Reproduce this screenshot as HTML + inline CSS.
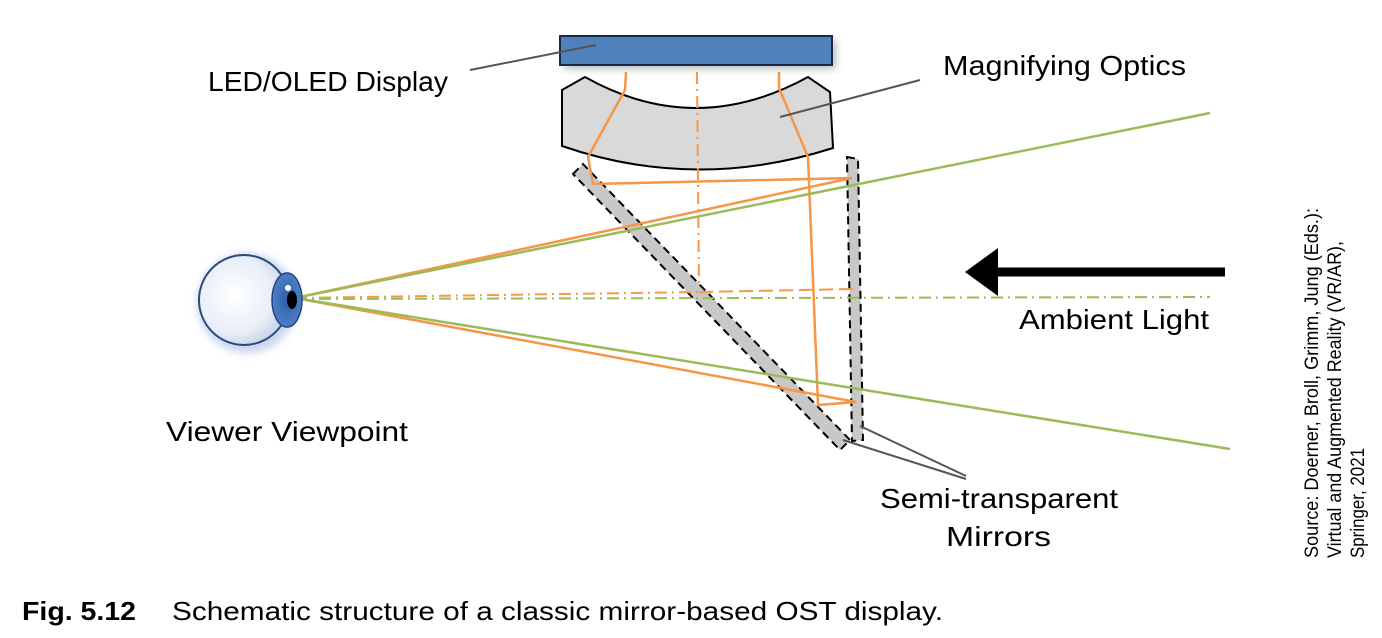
<!DOCTYPE html>
<html><head><meta charset="utf-8"><style>
html,body{margin:0;padding:0;background:#fff;}
svg{display:block;}
text{font-family:"Liberation Sans",sans-serif;fill:#000;}
</style></head><body>
<svg width="1382" height="638" viewBox="0 0 1382 638" xmlns="http://www.w3.org/2000/svg">
<defs>
<radialGradient id="eyeg" cx="0.4" cy="0.45" r="0.6">
<stop offset="0" stop-color="#ffffff"/><stop offset="0.7" stop-color="#e8eef8"/><stop offset="1" stop-color="#c5d3ea"/>
</radialGradient>
<radialGradient id="iris" cx="0.5" cy="0.5" r="0.5">
<stop offset="0" stop-color="#2d5fa8"/><stop offset="1" stop-color="#4c7fc5"/>
</radialGradient>
<filter id="sh" x="-20%" y="-20%" width="140%" height="140%"><feGaussianBlur stdDeviation="4"/></filter>
</defs>
<rect x="564" y="40" width="272" height="29" fill="#bbb" filter="url(#sh)"/>
<rect x="560" y="36" width="272" height="29" fill="#4f81bd" stroke="#1a2a44" stroke-width="2"/>
<path d="M562,90 L585,77 Q695,139 808,77 L830,92 L833,148 Q695,192 562,146 Z" fill="#d9d9d9" stroke="#000" stroke-width="2"/>
<line x1="697" y1="72" x2="699" y2="292" stroke="#f79646" stroke-width="2" stroke-dasharray="12,5,2,5"/>
<g fill="#c8c8c8" stroke="#000" stroke-width="2" stroke-dasharray="8,5">
<polygon points="573,174 583,164 850,440 840,450"/>
<polygon points="847,157 858,159 863,440 852,441"/>
</g>
<g fill="none" stroke="#f79646" stroke-width="2.5">
<polyline points="626,72 625,90 588,157 593,184 852,178 295,298 856,402 818,405 808,157 779,88 779,72"/>
</g>
<line x1="295" y1="298" x2="699" y2="292" stroke="#f79646" stroke-width="2" stroke-dasharray="12,5,2,5"/>
<line x1="699" y1="292" x2="855" y2="289" stroke="#f79646" stroke-width="2" stroke-dasharray="14,6"/>
<g stroke="#9bbb59" stroke-width="2.5">
<line x1="295" y1="298" x2="1210" y2="113"/>
<line x1="295" y1="298" x2="1230" y2="449"/>
</g>
<line x1="295" y1="299" x2="1210" y2="297" stroke="#9bbb59" stroke-width="2" stroke-dasharray="12,5,2,5"/>
<circle cx="247" cy="303" r="50" fill="#c9d6ee" filter="url(#sh)"/>
<circle cx="244" cy="300" r="45" fill="url(#eyeg)" stroke="#2b4a7a" stroke-width="2"/>
<ellipse cx="287" cy="300" rx="15" ry="27" fill="url(#iris)" stroke="#27447a" stroke-width="1.5"/>
<ellipse cx="292" cy="300" rx="5" ry="9" fill="#000"/>
<circle cx="288" cy="288" r="3" fill="#fff"/>
<line x1="1225" y1="272" x2="990" y2="272" stroke="#000" stroke-width="9"/>
<polygon points="965,272 998,248 998,296" fill="#000"/>
<g stroke="#555" stroke-width="2">
<line x1="470" y1="70" x2="596" y2="45"/>
<line x1="780" y1="117" x2="920" y2="80"/>
<line x1="860" y1="426" x2="966" y2="476"/>
<line x1="843" y1="440" x2="966" y2="479"/>
</g>
<g font-size="28" lengthAdjust="spacingAndGlyphs">
<text x="208" y="91" textLength="240" lengthAdjust="spacingAndGlyphs">LED/OLED Display</text>
<text x="943" y="75" textLength="243" lengthAdjust="spacingAndGlyphs">Magnifying Optics</text>
<text x="1019" y="329" textLength="190" lengthAdjust="spacingAndGlyphs">Ambient Light</text>
<text x="166" y="441" textLength="242" lengthAdjust="spacingAndGlyphs">Viewer Viewpoint</text>
<text x="880" y="508" textLength="238" lengthAdjust="spacingAndGlyphs">Semi-transparent</text>
<text x="946" y="546" textLength="105" lengthAdjust="spacingAndGlyphs">Mirrors</text>
</g>
<g font-size="19">
<text transform="translate(1318,558) rotate(-90)" textLength="350" lengthAdjust="spacingAndGlyphs">Source: Doerner, Broll, Grimm, Jung (Eds.):</text>
<text transform="translate(1341,558) rotate(-90)" textLength="317" lengthAdjust="spacingAndGlyphs">Virtual and Augmented Reality (VR/AR),</text>
<text transform="translate(1364,558) rotate(-90)" textLength="110" lengthAdjust="spacingAndGlyphs">Springer, 2021</text>
</g>
<text x="22" y="620" font-size="26" font-weight="bold" textLength="114" lengthAdjust="spacingAndGlyphs">Fig. 5.12</text>
<text x="172" y="620" font-size="26" textLength="771" lengthAdjust="spacingAndGlyphs">Schematic structure of a classic mirror-based OST display.</text>
</svg>
</body></html>
